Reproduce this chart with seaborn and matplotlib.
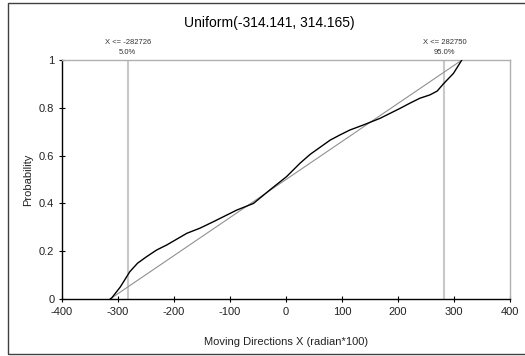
import matplotlib
matplotlib.use("Agg")
import matplotlib.pyplot as plt
import seaborn as sns
import pandas as pd
from matplotlib.patches import Rectangle

# ---- data ----
ecdf_x = [-314, -311, -296, -288, -279, -265, -249, -231, -213, -177, -154, -130,
          -106, -88, -58, -29, 1, 25, 43, 79, 96, 114, 138, 168, 186, 204, 221,
          239, 257, 270, 281, 299, 314]
ecdf_p = [0, 0.005, 0.05, 0.08, 0.114, 0.15, 0.177, 0.205, 0.226, 0.275, 0.296,
          0.323, 0.351, 0.372, 0.40, 0.456, 0.512, 0.568, 0.605, 0.665, 0.686,
          0.707, 0.728, 0.756, 0.777, 0.798, 0.819, 0.84, 0.854, 0.87, 0.90,
          0.944, 1.0]
uniform_x = [-314.141, 314.165]
uniform_p = [0.0, 1.0]
marker_x = [-282.726, 282.750]
marker_labels = ["X <= -282726\n5.0%", "X <= 282750\n95.0%"]
x_ticks = [-400, -300, -200, -100, 0, 100, 200, 300, 400]
y_ticks = [0, 0.2, 0.4, 0.6, 0.8, 1]
y_tick_labels = ["0", "0.2", "0.4", "0.6", "0.8", "1"]
title = "Uniform(-314.141, 314.165)"
xlabel = "Moving Directions X (radian*100)"
ylabel = "Probability"

sns.set_theme(style="white")
plt.rcParams["font.family"] = ["Liberation Sans", "DejaVu Sans"]

fig = plt.figure(figsize=(5.25, 3.56), dpi=100)
ax = fig.add_axes([62/525, 1-299/356, (510-62)/525, (299-60)/356])

# outer chart-area frame (right edge lies beyond the image)
fig.patches.append(Rectangle((8/525, 2.5/356), 540/525, 351/356, transform=fig.transFigure,
                             fill=False, edgecolor="#404040", linewidth=1.0))

for mx in marker_x:
    ax.axvline(mx, color="#c8c8c8", linewidth=1.5, zorder=1)

df_u = pd.DataFrame({"x": uniform_x, "p": uniform_p})
sns.lineplot(data=df_u, x="x", y="p", ax=ax, color="#909090", linewidth=0.8,
             sort=False, estimator=None, zorder=2)
df_e = pd.DataFrame({"x": ecdf_x, "p": ecdf_p})
sns.lineplot(data=df_e, x="x", y="p", ax=ax, color="#000000", linewidth=1.0,
             sort=False, estimator=None, zorder=3)

ax.set_xlim(-400, 400)
ax.set_ylim(0, 1)
ax.set_xticks(x_ticks)
ax.set_xticklabels([str(t) for t in x_ticks])
ax.set_yticks(y_ticks)
ax.set_yticklabels(y_tick_labels)
ax.tick_params(axis="both", direction="inout", length=5, width=0.8, color="#000000",
               labelsize=8, labelcolor="#222222", pad=3)
ax.tick_params(axis="both", which="both", bottom=True, left=True)

for side in ["left", "bottom"]:
    ax.spines[side].set_color("#000000")
    ax.spines[side].set_linewidth(1.0)
for side in ["top", "right"]:
    ax.spines[side].set_color("#b0b0b0")
    ax.spines[side].set_linewidth(1.0)

ax.set_xlabel(xlabel, fontsize=8, color="#222222", labelpad=15)
ax.set_ylabel(ylabel, fontsize=8, color="#222222", labelpad=4)
fig.text(269/525, 1-23/356, title, fontsize=10, color="#000000", ha="center", va="center")

for mx, lab in zip(marker_x, marker_labels):
    ax.text(mx, 1.015, lab, transform=ax.get_xaxis_transform(), ha="center", va="bottom",
            fontsize=5.5, color="#333333", linespacing=1.6)

fig.savefig("out.png", dpi=100)
